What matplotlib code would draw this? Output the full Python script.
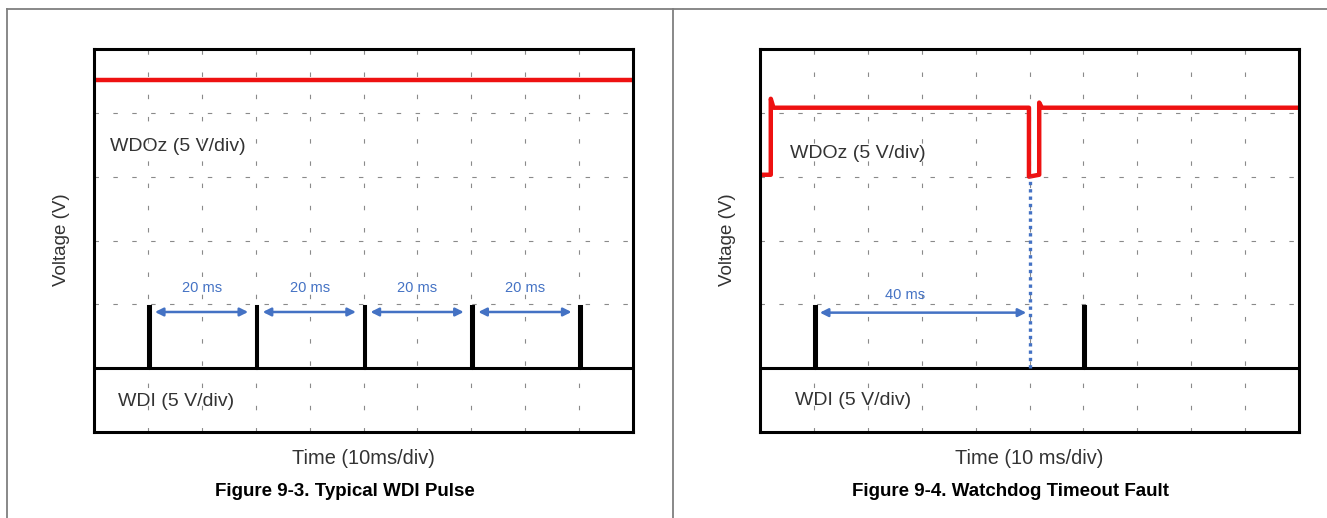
import numpy as np
import matplotlib.pyplot as plt
from matplotlib.lines import Line2D

# scope screens: time in ms (10 ms/div, 10 div), voltage in divisions (6 div)
x_ticks = list(range(0, 101, 10))
y_ticks = list(range(0, 7))

# Figure 9-3: WDI pulses every 20 ms, WDOz stays high
wdi_a_pulses = [10, 30, 50, 70, 90]
wdi_a_low = 1.0
wdi_a_high = 1.97
wdoz_a_t = [0, 100]
wdoz_a_v = [5.52, 5.52]
spans_a = [(11.3, 28.6), (31.3, 48.6), (51.3, 68.6), (71.3, 88.6)]
span_a_labels = ['20 ms', '20 ms', '20 ms', '20 ms']
span_a_label_x = [20, 40, 60, 80]

# Figure 9-4: WDI stops, WDOz goes low after 40 ms
wdi_b_pulses = [10, 60]
wdi_b_low = 1.0
wdi_b_high = 1.97
wdoz_b_t = [0, 2.0, 2.0, 2.5, 49.9, 49.9, 51.8, 51.8, 52.3, 100]
wdoz_b_v = [4.03, 4.03, 5.22, 5.08, 5.08, 4.0, 4.03, 5.16, 5.08, 5.08]
spans_b = [(11.1, 49.4)]
span_b_labels = ['40 ms']
span_b_label_x = [27]
fault_t = 50
fault_v = [1.0, 4.0]

pulse_w = 0.3
blue = '#4472C4'
font = ['Liberation Sans', 'DejaVu Sans']


def pulse_trace(pulses, low, high):
    t, v = [0], [low]
    for p in pulses:
        t += [p, p, p + pulse_w, p + pulse_w]
        v += [low, high, high, low]
    t.append(100)
    v.append(low)
    return t, v


def scope(ax):
    ax.set_xlim(0, 100)
    ax.set_ylim(0, 6)
    ax.set_xticks(x_ticks)
    ax.set_yticks(y_ticks)
    ax.tick_params(length=0, labelbottom=False, labelleft=False)
    ax.xaxis.grid(True, color='#8a8a8a', lw=0.8, ls=(0, (4, 16)))
    ax.yaxis.grid(True, color='#8a8a8a', lw=0.8, ls=(0, (4, 13)))
    ax.set_axisbelow(True)
    for s in ax.spines.values():
        s.set_linewidth(2.2)
        s.set_color('black')


fig = plt.figure(figsize=(13.27, 5.18), dpi=100)
ax1 = fig.add_axes([94 / 1327, 1 - 432 / 518, 539 / 1327, 383 / 518])
ax2 = fig.add_axes([760 / 1327, 1 - 432 / 518, 539 / 1327, 383 / 518])

for ax in (ax1, ax2):
    scope(ax)

# left panel
t, v = pulse_trace(wdi_a_pulses, wdi_a_low, wdi_a_high)
ax1.plot(t, v, color='black', lw=2.2, solid_joinstyle='miter')
ax1.plot(wdoz_a_t, wdoz_a_v, color='#ee1111', lw=3.2)
for (a, b), lab, lx in zip(spans_a, span_a_labels, span_a_label_x):
    ax1.annotate('', xy=(b, 1.88), xytext=(a, 1.88),
                 arrowprops=dict(arrowstyle='<|-|>', color=blue, lw=1.8,
                                 mutation_scale=12, shrinkA=0, shrinkB=0))
    ax1.text(lx, 2.26, lab, color=blue, fontsize=10.5, ha='center', va='center', family=font)
ax1.text(3.0, 4.47, 'WDOz (5 V/div)', fontsize=14, color='#333333', va='center', family=font)
ax1.text(4.5, 0.47, 'WDI (5 V/div)', fontsize=14, color='#333333', va='center', family=font)

# right panel
t, v = pulse_trace(wdi_b_pulses, wdi_b_low, wdi_b_high)
ax2.plot(t, v, color='black', lw=2.2, solid_joinstyle='miter')
ax2.plot(wdoz_b_t, wdoz_b_v, color='#ee1111', lw=3.2, solid_joinstyle='round')
ax2.plot([fault_t, fault_t], fault_v, color=blue, lw=2.4, ls=(0, (1, 1.2)))
for (a, b), lab, lx in zip(spans_b, span_b_labels, span_b_label_x):
    ax2.annotate('', xy=(b, 1.87), xytext=(a, 1.87),
                 arrowprops=dict(arrowstyle='<|-|>', color=blue, lw=1.8,
                                 mutation_scale=12, shrinkA=0, shrinkB=0))
    ax2.text(lx, 2.15, lab, color=blue, fontsize=10.5, ha='center', va='center', family=font)
ax2.text(5.6, 4.37, 'WDOz (5 V/div)', fontsize=14, color='#333333', va='center', family=font)
ax2.text(6.5, 0.5, 'WDI (5 V/div)', fontsize=14, color='#333333', va='center', family=font)

# axis labels and captions
fig.text(62 / 1327, 1 - 240 / 518, 'Voltage (V)', rotation=90, fontsize=13.5,
         color='#333333', ha='center', va='center', family=font)
fig.text(727 / 1327, 1 - 240 / 518, 'Voltage (V)', rotation=90, fontsize=13.5,
         color='#333333', ha='center', va='center', family=font)
fig.text(363 / 1327, 1 - 458 / 518, 'Time (10ms/div)', fontsize=14.4,
         color='#333333', ha='center', va='center', family=font)
fig.text(1029 / 1327, 1 - 458 / 518, 'Time (10 ms/div)', fontsize=14.4,
         color='#333333', ha='center', va='center', family=font)
fig.text(345 / 1327, 1 - 492 / 518, 'Figure 9-3. Typical WDI Pulse', fontsize=13.5,
         fontweight='bold', ha='center', va='center', family=font)
fig.text(1010 / 1327, 1 - 492 / 518, 'Figure 9-4. Watchdog Timeout Fault', fontsize=13.5,
         fontweight='bold', ha='center', va='center', family=font)

# outer table frame
for xs, ys in [([7, 1327], [9, 9]), ([7, 7], [9, 518]), ([673, 673], [9, 518])]:
    fig.add_artist(Line2D([x / 1327 for x in xs], [1 - y / 518 for y in ys],
                          color='#7f7f7f', lw=1.3))

fig.savefig('out.png', dpi=100)
